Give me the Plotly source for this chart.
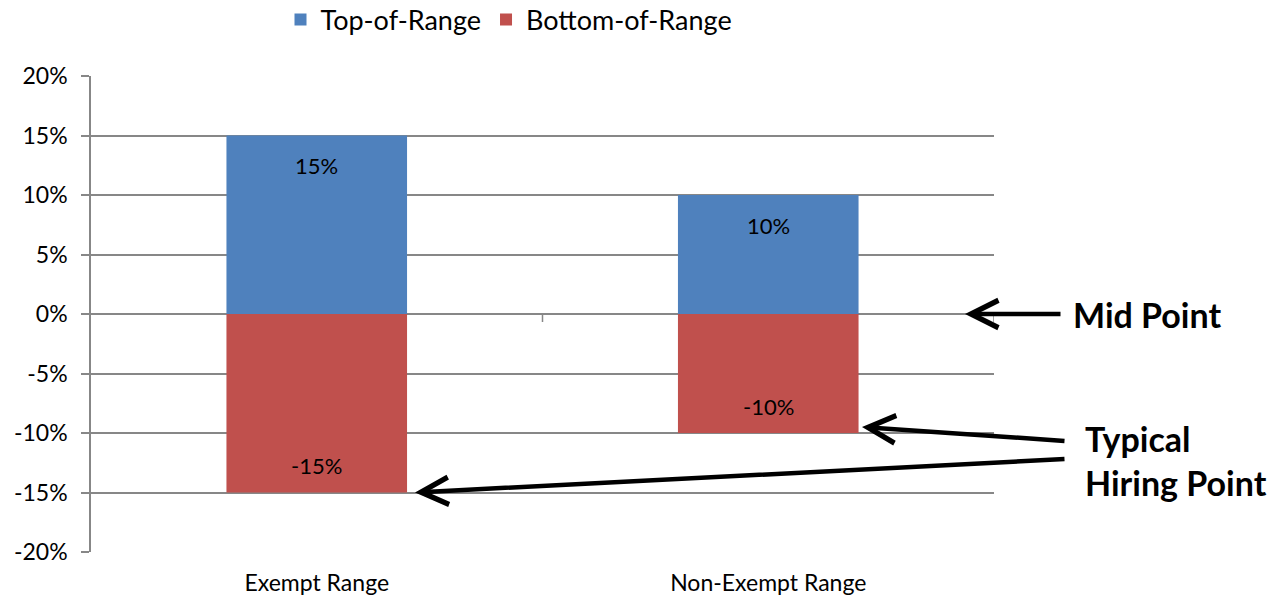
import plotly.graph_objects as go

# Pay-range spread around the midpoint, by range type
categories = ["Exempt Range", "Non-Exempt Range"]
top_of_range = [0.15, 0.10]
bottom_of_range = [-0.15, -0.10]
series_names = ["Top-of-Range", "Bottom-of-Range"]
y_ticks = [-0.20, -0.15, -0.10, -0.05, 0.0, 0.05, 0.10, 0.15, 0.20]
y_tick_labels = [f"{v:.0%}" for v in y_ticks]

BLUE = "#4F81BD"
RED = "#C0504D"
GRID = "#878787"
FONT = "Lato"

W, H = 1281, 599
L, R, T, B = 91, 287, 76, 47
plot_w = W - L - R
plot_h = H - T - B


def px_to_x(px):
    # category axis spans [-0.5, 1.5] across the plot width
    return -0.5 + (px - L) / plot_w * 2.0


def px_to_y(py):
    return 0.2 - (py - T) / plot_h * 0.4


def px_to_paper_x(px):
    return (px - L) / plot_w


def px_to_paper_y(py):
    return 1 - (py - T) / plot_h


fig = go.Figure()
fig.add_trace(go.Bar(x=categories, y=top_of_range, name=series_names[0],
                     marker=dict(color=BLUE, line=dict(width=0))))
fig.add_trace(go.Bar(x=categories, y=bottom_of_range, name=series_names[1],
                     marker=dict(color=RED, line=dict(width=0))))

annotations = []
# value labels just inside the outer end of each bar
for cat, v in zip(categories, top_of_range):
    annotations.append(dict(x=cat, y=v, xref="x", yref="y", text=f"{v:.0%}",
                            showarrow=False, yshift=-30,
                            font=dict(family=FONT, size=22, color="black")))
for cat, v in zip(categories, bottom_of_range):
    annotations.append(dict(x=cat, y=v, xref="x", yref="y", text=f"{v:.0%}",
                            showarrow=False, yshift=27,
                            font=dict(family=FONT, size=22, color="black")))

# callout arrows
arrow_style = dict(showarrow=True, arrowhead=5, arrowsize=1.2, arrowwidth=4.5,
                   arrowcolor="black", text="", xref="x", yref="y",
                   axref="x", ayref="y", standoff=0)
annotations.append(dict(x=px_to_x(965), y=0.0,
                        ax=px_to_x(1062), ay=0.0, **arrow_style))
annotations.append(dict(x=px_to_x(862), y=px_to_y(427),
                        ax=px_to_x(1066), ay=px_to_y(441), **arrow_style))
annotations.append(dict(x=px_to_x(415), y=bottom_of_range[0],
                        ax=px_to_x(1066), ay=px_to_y(459), **arrow_style))

annotations.append(dict(x=px_to_paper_x(1071), y=0.0, xref="paper", yref="y",
                        text="<b>Mid Point</b>", showarrow=False,
                        xanchor="left", yanchor="middle", align="left",
                        font=dict(family=FONT, size=34, color="black")))
annotations.append(dict(x=px_to_paper_x(1083), y=px_to_paper_y(460),
                        xref="paper", yref="paper",
                        text="<b>Typical<br>Hiring Point</b>", showarrow=False,
                        xanchor="left", yanchor="middle", align="left",
                        font=dict(family=FONT, size=34, color="black")))

# small category-boundary ticks hanging off the zero line
shapes = []
for xb in (0.5, 1.5):
    shapes.append(dict(type="line", xref="x", yref="y", x0=xb, x1=xb,
                       ysizemode="pixel", yanchor=0.0, y0=0, y1=-8,
                       line=dict(color=GRID, width=1.5)))

fig.update_layout(
    width=W, height=H,
    margin=dict(l=L, r=R, t=T, b=B, autoexpand=False),
    paper_bgcolor="white", plot_bgcolor="white",
    barmode="relative", bargap=0.6,
    font=dict(family=FONT, color="black"),
    legend=dict(orientation="h", x=px_to_paper_x(509), xanchor="center",
                y=px_to_paper_y(20), yanchor="middle",
                font=dict(family=FONT, size=27), traceorder="normal",
                itemwidth=30),
    xaxis=dict(range=[-0.5, 1.5], showgrid=False, zeroline=False,
               showline=False, ticks="", ticklabelstandoff=15,
               tickfont=dict(family=FONT, size=23)),
    yaxis=dict(range=[-0.2, 0.2], tickvals=y_ticks, ticktext=y_tick_labels,
               showgrid=True, gridcolor=GRID, gridwidth=1.5,
               zeroline=True, zerolinecolor=GRID, zerolinewidth=1.5,
               showline=True, linecolor=GRID, linewidth=1.5,
               ticks="outside", ticklen=8, tickcolor=GRID, tickwidth=1.5,
               ticklabelstandoff=9,
               tickfont=dict(family=FONT, size=23)),
    annotations=annotations,
    shapes=shapes,
)

fig.write_html("out.html")
